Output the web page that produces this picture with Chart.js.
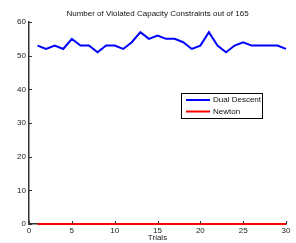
<!DOCTYPE html>
<html>
<head>
<meta charset="utf-8">
<script src="https://cdn.jsdelivr.net/npm/chart.js@4"></script>
<style>
  html, body { margin: 0; padding: 0; background: #fff; }
  #wrap { width: 296px; height: 243px; }
</style>
</head>
<body>
<div id="wrap"><canvas id="chart" width="296" height="243"></canvas></div>
<script>
var trials = [1,2,3,4,5,6,7,8,9,10,11,12,13,14,15,16,17,18,19,20,21,22,23,24,25,26,27,28,29,30];
var dual_descent = [53,52,53,52,55,53,53,51,53,53,52,54,57,55,56,55,55,54,52,53,57,53,51,53,54,53,53,53,53,52];
var newton = [0,0,0,0,0,0,0,0,0,0,0,0,0,0,0,0,0,0,0,0,0,0,0,0,0,0,0,0,0,0];
var x_ticks = [0,5,10,15,20,25,30];
var y_ticks = [0,10,20,30,40,50,60];
var chart_title = 'Number of Violated Capacity Constraints out of 165';

var FONT = 'Liberation Sans, Arial, sans-serif';

function to_points(ys) {
    return trials.map(function(t, i) { return { x: t, y: ys[i] }; });
}

// inward ticks, title over the plot area and the boxed legend, like the matlab figure
var matlab_axes = {
    id: 'matlab_axes',
    afterDatasetsDraw: function(chart) {
        var ctx = chart.ctx;
        var xs = chart.scales.x, ys = chart.scales.y;
        var area = chart.chartArea;
        var left = area.left, bottom = area.bottom;
        ctx.save();
        ctx.strokeStyle = '#333';
        ctx.lineWidth = 1;
        ctx.beginPath();
        x_ticks.forEach(function(v) {
            var px = Math.round(xs.getPixelForValue(v)) + 0.5;
            ctx.moveTo(px, bottom);
            ctx.lineTo(px, bottom - 3);
        });
        y_ticks.forEach(function(v) {
            var py = Math.round(ys.getPixelForValue(v)) + 0.5;
            ctx.moveTo(left, py);
            ctx.lineTo(left + 3, py);
        });
        ctx.stroke();

        // title centred on the axes
        ctx.font = '8px ' + FONT;
        ctx.fillStyle = '#111';
        ctx.textAlign = 'center';
        ctx.textBaseline = 'middle';
        ctx.fillText(chart_title, (area.left + area.right) / 2, 14);

        // legend
        var bx = 181, by = 93, bw = 81, bh = 25;
        ctx.fillStyle = '#fff';
        ctx.fillRect(bx, by, bw, bh);
        ctx.strokeStyle = '#000';
        ctx.lineWidth = 1;
        ctx.strokeRect(bx + 0.5, by + 0.5, bw, bh);
        ctx.textAlign = 'left';
        chart.data.datasets.forEach(function(ds, i) {
            var ry = by + 7 + i * 11.5;
            ctx.strokeStyle = ds.borderColor;
            ctx.lineWidth = 2;
            ctx.beginPath();
            ctx.moveTo(bx + 5, ry);
            ctx.lineTo(bx + 29, ry);
            ctx.stroke();
            ctx.fillStyle = '#111';
            ctx.fillText(ds.label, bx + 32, ry);
        });
        ctx.restore();
    }
};

new Chart(document.getElementById('chart'), {
    type: 'line',
    data: {
        datasets: [
            {
                label: 'Dual Descent',
                data: to_points(dual_descent),
                borderColor: '#0000ff',
                borderWidth: 2,
                pointRadius: 0,
                tension: 0,
                clip: false
            },
            {
                label: 'Newton',
                data: to_points(newton),
                borderColor: '#ff0000',
                borderWidth: 2,
                pointRadius: 0,
                tension: 0,
                clip: false
            }
        ]
    },
    options: {
        responsive: false,
        animation: false,
        layout: { padding: { left: 0, right: 10, top: 22, bottom: 0 } },
        plugins: {
            legend: { display: false },
            tooltip: { enabled: false },
            title: { display: false }
        },
        scales: {
            x: {
                type: 'linear',
                min: 0,
                max: 30,
                afterBuildTicks: function(s) { s.ticks = x_ticks.map(function(v) { return { value: v }; }); },
                afterFit: function(s) { s.height = 19; },
                grid: { display: false, drawTicks: false },
                border: { display: true, color: '#333', width: 1.5 },
                ticks: { color: '#222', font: { family: FONT, size: 8 }, padding: 2, maxRotation: 0 },
                title: { display: true, text: 'Trials', color: '#222', font: { family: FONT, size: 8 }, padding: { top: 0, bottom: 0 } }
            },
            y: {
                min: 0,
                max: 60,
                afterBuildTicks: function(s) { s.ticks = y_ticks.map(function(v) { return { value: v }; }); },
                afterFit: function(s) { s.width = 29; },
                grid: { display: false, drawTicks: false },
                border: { display: true, color: '#333', width: 1.5 },
                ticks: { color: '#222', font: { family: FONT, size: 8 }, padding: 3 }
            }
        }
    },
    plugins: [matlab_axes]
});
</script>
</body>
</html>
